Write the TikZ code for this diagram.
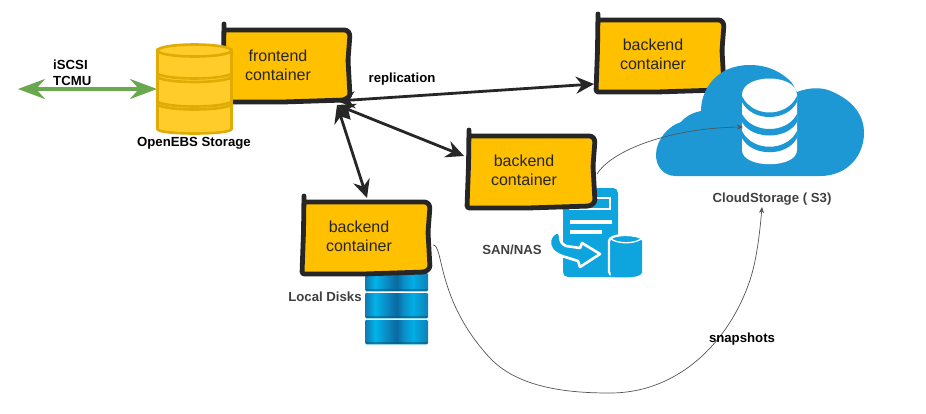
\documentclass[tikz,border=0pt]{standalone}
\usepackage{fontspec}
\setmainfont{Liberation Sans}
\usetikzlibrary{arrows.meta,calc}
\definecolor{boxfill}{HTML}{FFC000}
\definecolor{boxline}{HTML}{262626}
\definecolor{cyl}{HTML}{FFCC29}
\definecolor{cylline}{HTML}{DFAC05}
\definecolor{cloudblue}{HTML}{1E98D5}
\definecolor{sanblue}{HTML}{0EA5DF}
\definecolor{greenarrow}{HTML}{6AA84F}
\definecolor{thin}{HTML}{555555}
\definecolor{dka}{HTML}{1079B0}
\definecolor{dkb}{HTML}{00B4EA}
\definecolor{dkc}{HTML}{0A8FC8}
\definecolor{dkd}{HTML}{0A6AA0}
\definecolor{dke}{HTML}{00ADE5}
\definecolor{dkf}{HTML}{1180B5}
\pgfdeclarehorizontalshading{diskshade}{100bp}{
 color(0bp)=(dka);color(25bp)=(dka);color(33bp)=(dkb);color(41bp)=(dkc);
 color(50bp)=(dkd);color(56bp)=(dkc);color(63bp)=(dke);color(75bp)=(dkf);color(100bp)=(dkf)}
\tikzset{
  boxtext/.style={font=\fontsize{16}{19}\selectfont,text=boxline,align=center,inner sep=0pt},
  sketch/.style={draw=boxline,line width=4.8pt,fill=boxfill,rounded corners=2.5pt,line cap=round},
  lab/.style={font=\fontsize{13.2}{16}\selectfont\bfseries,text=black,inner sep=0pt,align=left},
  labg/.style={font=\fontsize{13.2}{16}\selectfont\bfseries,text=black!75,inner sep=0pt},
  bigarrow/.style={draw=boxline,line width=2.8pt,{Stealth[length=18pt,width=17pt,inset=6pt]}-{Stealth[length=18pt,width=17pt,inset=6pt]}},
  thinarrow/.style={draw=thin,line width=.7pt,-{Stealth[length=6pt,width=5pt]}},
  cylseg/.style={fill=cyl,draw=cylline,line width=2.6pt},
  cylarc/.style={draw=cylline,line width=2.6pt}
}
\newcommand{\sketchbox}[6]{%
 \begin{scope}[shift={(#2,#3)}]
  \path[sketch] (1,-6) -- (0.5,30) -- (-1,72) -- (60,72) -- (122,70) -- (127,66) -- (125,30) -- (127,4) -- (124,0) -- (1,0);
  \node[boxtext] (#1) at (#5,#6) {#4};
 \end{scope}}
\begin{document}
\begin{tikzpicture}[x=1pt,y=-1pt]
\useasboundingbox[fill=white] (0,0) rectangle (926,413);

% local disks
\foreach \ya/\yb in {273/291,293/318,320/344}{
  \path[shading=diskshade,rounded corners=1.2pt] (365,\ya) rectangle (428,\yb);
  \path[fill=black!45!sanblue,opacity=.55] (365.5,\yb-1.6) rectangle (427.5,\yb);
  \path[fill=sanblue!45!white] (366,\yb) rectangle (427,\yb+1);
}
% SAN icon
\path[fill=sanblue,rounded corners=5pt] (563,188) rectangle (618,277);
\path[draw=white,line width=1.4pt] (570,198) rectangle (610,209);
\path[fill=white] (570,220) rectangle (612,224);
\path[fill=white] (570,230) rectangle (602,234);
\path[fill=sanblue,draw=white,line width=2.4pt] (609,241) .. controls (609,233) and (642,233) .. (642,241) -- (642,272) .. controls (642,279) and (609,279) .. (609,272) -- cycle;
\path[fill=sanblue] (610.5,241) .. controls (610.5,235) and (642,235) .. (642,241) -- (642,272) .. controls (642,278) and (625,278) .. (610.5,277) -- cycle;
\path[draw=white,line width=1.3pt] (611,239) .. controls (618,244) and (634,244) .. (641,239);
\path[fill=sanblue,draw=white,line width=2.6pt,line join=round] (558,232) -- (560,235) .. controls (560,242) and (562,244) .. (566,246) -- (580,248) -- (582,243) -- (600,254) -- (580,267) -- (578,261) -- (562,256) .. controls (552,252) and (549,247) .. (550,240) .. controls (551,236) and (554,233) .. (558,232) -- cycle;

% green arrow
\coordinate (gl) at (18,89);
\coordinate (gr) at (157,89);
\draw[draw=greenarrow,line width=3.6pt,{Stealth[length=27pt,width=20pt,inset=9pt]}-{Stealth[length=27pt,width=20pt,inset=9pt]}] (gl) -- (gr);

% boxes
\sketchbox{fc}{223}{30}{frontend\\container}{55}{35}
\sketchbox{bt}{597}{20}{backend\\container}{56}{34}
\sketchbox{bm}{468}{136}{backend\\container}{56}{34}
\sketchbox{bl}{303}{202}{backend\\container}{56}{34}

% cylinder
\path[cylseg] (157.5,50) -- (157.5,129) .. controls (157.5,135) and (231.5,135) .. (231.5,129) -- (231.5,50) -- cycle;
\path[cylarc] (157.5,74) .. controls (170,80) and (219,80) .. (231.5,74);
\path[cylarc] (157.5,77.5) .. controls (170,83.5) and (219,83.5) .. (231.5,77.5);
\path[cylarc] (157.5,102) .. controls (170,108) and (219,108) .. (231.5,102);
\path[cylarc] (157.5,105) .. controls (170,111) and (219,111) .. (231.5,105);
\path[cylseg] (194.5,50.5) ellipse (37 and 6);
\node[lab] (oes) at (194,143) {OpenEBS Storage};
\node[lab,anchor=west] (iscsi) at (53,65) {iSCSI};
\node[lab,anchor=west] (tcmu) at (53,81) {TCMU};

% cloud
\path[fill=cloudblue] (676,176) .. controls (663,176) and (656,166) .. (656,155)
 .. controls (656,140) and (668,126) .. (681,122) .. controls (688,114) and (696,112) .. (701,111)
 .. controls (701,90) and (716,65) .. (750,65) .. controls (770,65) and (784,74) .. (792,83)
 -- (797,92) .. controls (810,87) and (823,87) .. (833,92) .. controls (853,101) and (864,115) .. (864,133)
 .. controls (864,155) and (848,176) .. (820,176) -- cycle;
% database on the cloud
\path[fill=white] (742,95) .. controls (742,73) and (797,73) .. (797,95) -- (797,150) .. controls (797,169) and (742,169) .. (742,150) -- cycle;
\path[fill=cloudblue] (742,96) .. controls (752,118) and (787,118) .. (797,96) -- (797,102) .. controls (787,122) and (752,122) .. (742,102) -- cycle;
\path[fill=cloudblue] (742,114) .. controls (752,134) and (787,134) .. (797,114) -- (797,122) .. controls (787,140) and (752,140) .. (742,122) -- cycle;
\path[fill=cloudblue] (742,131) .. controls (752,152) and (787,152) .. (797,131) -- (797,138) .. controls (787,157) and (752,157) .. (742,138) -- cycle;
\coordinate (dbin) at (743,127);

% arrows
\coordinate (hub) at (337,105);
\coordinate (hubr) at (337,101);
\coordinate (inT) at (594,84);
\coordinate (inM) at (464,156);
\coordinate (inL) at (367,198);
\draw[bigarrow] (hubr) -- (inT);
\draw[bigarrow] (hub) -- (inM);
\draw[bigarrow] (hub) -- (inL);

% thin arrows
\coordinate (sA) at (597,174);
\coordinate (sB) at (433,245);
\coordinate (cs) at (762,207);
\draw[thinarrow] (sA) .. controls (612,150) and (670,128) .. (dbin);
\draw[thinarrow] (sB) .. controls (444,245) and (436,300) .. (490,358)
 .. controls (520,390) and (575,393) .. (610,393)
 .. controls (680,393) and (730,340) .. (750,280) .. controls (757,259) and (760,230) .. (cs);

% labels
\node[lab] (rep) at (402,79.5) {replication};
\node[lab] (snap) at (742,339.5) {snapshots};
\node[labg] (san) at (512,250) {SAN/NAS};
\node[labg] (ld) at (325,297) {Local Disks};
\node[labg] (cl) at (772,199) {CloudStorage ( S3)};
\end{tikzpicture}
\end{document}
